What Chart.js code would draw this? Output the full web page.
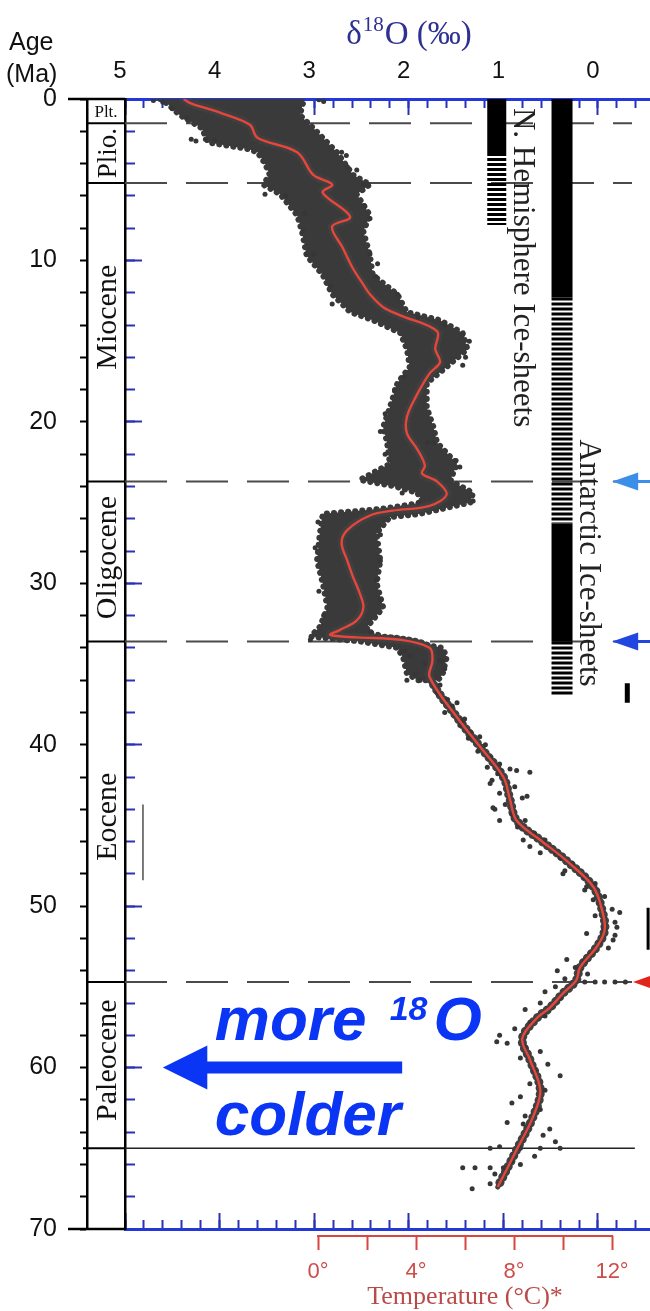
<!DOCTYPE html>
<html>
<head>
<meta charset="utf-8">
<script src="https://cdn.jsdelivr.net/npm/chart.js@4.4.1/dist/chart.umd.min.js"></script>
<style>
  html, body { margin: 0; padding: 0; background: #ffffff; }
  canvas { display: block; }
</style>
</head>
<body>
<canvas id="c" width="650" height="1311"></canvas>
<script>
// ================= DATA =================
const deltaTickLabels = [5, 4, 3, 2, 1, 0];
const ageTickLabels = [0, 10, 20, 30, 40, 50, 60, 70];
const tempTickLabels = [0, 4, 8, 12];

const epochNames = ['Plt.', 'Plio.', 'Miocene', 'Oligocene', 'Eocene', 'Paleocene', ''];
const epochStart = [0, 1.5, 5.2, 23.7, 33.6, 54.7, 65];
const epochEnd   = [1.5, 5.2, 23.7, 33.6, 54.7, 65, 70];
const dashedAges = [1.5, 5.2, 23.7, 33.6, 54.7];
const solidAges  = [65];

// smoothed (red) curve: age (Ma) and delta18O (per mil)
const smoothAge  = [0.0, 0.25, 0.9, 1.6, 2.4, 3.3, 4.7, 5.3, 5.8, 7.3, 7.9, 9.2, 10.5, 11.5, 12.1, 12.9, 13.4, 14.4, 15.5, 16.3, 17.0, 18.5, 19.7, 20.7, 21.7, 22.7, 23.2, 23.7, 24.5, 25.2, 25.5, 25.8, 26.7, 27.5, 28.6, 29.6, 30.6, 31.5, 32.3, 32.9, 33.2, 33.35, 33.5, 34.0, 34.8, 35.8, 38.3, 40.1, 42.0, 43.4, 44.7, 45.9, 47.2, 48.8, 50.4, 51.5, 52.5, 53.8, 54.6, 55.4, 56.3, 56.9, 58.2, 59.5, 61.4, 63.1, 65.1, 67.4];
const smoothD18O = [4.38, 4.31, 3.97, 3.68, 3.60, 3.18, 3.01, 2.81, 2.91, 2.62, 2.81, 2.70, 2.59, 2.48, 2.41, 2.27, 2.09, 1.70, 1.72, 1.67, 1.78, 1.93, 2.02, 2.02, 1.91, 1.83, 1.86, 1.70, 1.60, 1.78, 2.17, 2.41, 2.65, 2.71, 2.65, 2.59, 2.52, 2.48, 2.55, 2.73, 2.83, 2.55, 2.09, 1.78, 1.75, 1.78, 1.49, 1.25, 1.00, 0.93, 0.86, 0.61, 0.33, 0.05, -0.05, -0.07, 0.01, 0.19, 0.23, 0.37, 0.51, 0.64, 0.80, 0.72, 0.61, 0.69, 0.86, 1.06];

// dense data cloud (Neogene - late Eocene): left and right edges
const cloudLeftAge  = [0.0, 0.3, 1.0, 1.8, 2.7, 3.1, 3.3, 4.0, 4.7, 5.3, 5.9, 7.2, 8.2, 9.7, 10.9, 12.1, 13.2, 13.7, 14.5, 15.5, 16.6, 17.6, 19.1, 20.3, 21.3, 22.6, 23.6, 24.0, 24.4, 25.0, 25.4, 25.7, 26.9, 28.6, 30.0, 31.5, 32.7, 33.3, 33.6, 34.0, 34.6, 35.6, 36.0];
const cloudLeftD18O = [4.63, 4.55, 4.42, 4.19, 4.12, 3.70, 3.60, 3.52, 3.47, 3.54, 3.36, 3.18, 3.13, 3.08, 2.91, 2.81, 2.62, 2.38, 2.09, 2.02, 1.99, 2.12, 2.20, 2.27, 2.23, 2.20, 2.52, 2.15, 1.91, 1.85, 2.30, 2.91, 2.94, 2.97, 2.91, 2.86, 2.94, 3.04, 2.52, 2.12, 2.06, 2.02, 1.90];
const cloudRightAge  = [0.0, 0.3, 1.0, 1.8, 3.3, 4.7, 5.3, 5.9, 7.2, 8.2, 9.7, 10.9, 12.1, 13.2, 13.7, 14.5, 15.5, 16.6, 17.6, 19.1, 20.3, 21.3, 22.6, 23.6, 23.8, 24.4, 25.0, 25.7, 25.9, 26.9, 28.6, 30.0, 31.5, 32.7, 33.0, 33.4, 34.0, 34.6, 35.6, 36.0];
const cloudRightD18O = [3.10, 3.12, 3.15, 3.01, 2.76, 2.59, 2.41, 2.55, 2.41, 2.48, 2.41, 2.38, 2.12, 2.02, 1.67, 1.43, 1.38, 1.60, 1.81, 1.81, 1.74, 1.70, 1.49, 1.56, 1.51, 1.32, 1.35, 1.88, 2.20, 2.34, 2.30, 2.34, 2.27, 2.44, 2.44, 2.20, 1.64, 1.60, 1.64, 1.69];

// individual measurements visible outside / at the edge of the dense cloud
const dotAge  = [0.1, 0.2, 0.05, 0.15, 2.5, 2.6, 3.3, 3.5, 4.2, 5.3, 5.3, 5.9, 7.1, 7.4, 8.2, 9.6, 9.6, 9.6, 11.6, 12.1, 12.7, 14.6, 16.5, 20.6, 21.3, 21.3, 22.8, 24.4, 24.9, 27.8, 28.6, 29.8, 33.5, 34.3,
  2.5, 2.55, 6.0, 1.2, 0.6, 4.4, 6.6, 10.2, 11.0, 13.5, 14.0, 15.0, 16.0, 17.2, 18.0, 19.5, 22.0, 22.4, 25.0, 26.2, 27.0, 30.5, 31.0, 32.0, 33.0,
  34.2, 34.5, 34.8, 35.0, 35.3, 35.6, 36.0, 36.3, 36.8, 37.2, 37.6, 38.0, 38.4, 38.8, 39.2, 39.6, 40.0, 40.4, 40.8, 41.2, 41.5, 41.8, 42.2, 42.6, 43.0, 43.3, 43.7, 44.0, 44.3, 44.7, 45.1, 45.5, 45.9, 46.3, 46.7, 47.0, 47.4, 47.8, 48.2, 48.6, 49.0, 49.4, 49.8, 50.2, 50.6, 51.0, 51.4, 51.8, 52.2, 52.6, 53.0, 53.4, 53.8, 54.2, 54.5, 54.7, 54.7, 54.7, 54.7, 54.7, 55.0, 55.3, 55.7, 56.0, 56.4, 56.8, 57.2, 57.6, 58.0, 58.4, 58.5, 58.7, 59.0, 59.4, 59.8, 60.2, 60.5, 61.0, 61.4, 61.8, 62.2, 62.6, 63.0, 63.4, 63.5, 63.8, 64.2, 64.6, 64.9, 65.0, 65.0, 65.0, 65.0, 65.5, 65.8, 66.0, 66.2, 66.2, 66.2, 66.2, 66.6, 67.2, 67.5,
  36.0, 34.8, 37.4, 38.5, 39.5, 41.4, 42.4, 43.9, 44.7, 41.6, 41.7, 43.2, 45.9, 46.7, 48.0, 48.8, 49.6, 50.4, 51.3, 52.1, 51.7, 53.3, 54.0];
const dotD18O = [4.70, 4.60, 2.95, 2.90, 4.30, 4.25, 2.71, 2.66, 2.65, 2.48, 2.43, 3.52, 3.10, 2.41, 3.12, 3.08, 3.01, 2.41, 2.83, 2.12, 2.81, 1.43, 1.43, 2.30, 1.74, 1.80, 1.46, 2.07, 1.32, 2.99, 2.30, 2.34, 3.04, 2.09,
  4.15, 4.05, 3.30, 4.35, 4.50, 2.55, 2.47, 2.33, 2.35, 1.90, 1.62, 1.36, 1.40, 2.05, 2.15, 2.25, 2.25, 1.50, 1.90, 2.96, 2.30, 2.95, 2.30, 2.90, 2.40,
  2.04, 1.99, 1.67, 1.83, 1.62, 1.93, 1.88, 1.67, 1.70, 1.59, 1.54, 1.62, 1.41, 1.46, 1.35, 1.37, 1.19, 1.27, 1.14, 1.04, 0.93, 1.06, 1.12, 0.88, 1.04, 0.80, 0.98, 1.09, 0.91, 0.77, 0.85, 0.67, 0.56, 0.72, 0.45, 0.40, 0.27, 0.35, 0.14, 0.03, 0.14, -0.07, -0.02, -0.15, 0.03, -0.18, -0.07, -0.18, -0.02, -0.11, 0.08, 0.14, 0.24, 0.11, 0.35, 0.14, 0.03, -0.07, -0.18, -0.29, 0.45, 0.56, 0.40, 0.61, 0.77, 0.56, 0.72, 0.88, 1.04, 1.07, 0.96, 0.77, 0.61, 0.82, 0.53, 0.67, 0.40, 0.72, 0.56, 0.82, 0.91, 0.61, 0.77, 0.96, 0.79, 0.51, 0.58, 0.45, 1.04, 1.14, 0.82, 0.61, 0.40, 0.67, 0.91, 0.82, 1.43, 1.30, 1.14, 1.00, 1.09, 1.14, 1.33,
  2.02, 1.64, 1.49, 1.43, 1.25, 1.17, 1.14, 1.11, 1.04, 0.86, 0.72, 0.75, 0.79, 0.61, 0.37, 0.12, 0.05, -0.23, -0.20, -0.16, 0.12, 0.33, 0.43];

// ice-sheet bars (0 = N. Hemisphere, 1 = Antarctic); full = permanent, else partial/ephemeral
const iceSheetNames = ['N. Hemisphere Ice-sheets', 'Antarctic Ice-sheets'];
const iceSheetD18O  = [1.07, 0.38];
const iceBarSheet = [0, 0, 1, 1, 1, 1];
const iceBarFrom  = [0, 3.35, 0, 12.3, 26.3, 33.6];
const iceBarTo    = [3.35, 7.8, 12.3, 26.3, 33.6, 37.0];
const iceBarFull  = [true, false, true, false, true, false];
const iceLabelAge  = [0.55, 21.1];
const iceLabelD18O = [0.78, 0.085];

// small vertical marks
const markD18O = [-0.31, -0.53, 4.81];
const markFrom = [36.2, 50.1, 43.7];
const markTo   = [37.4, 52.7, 48.4];

// event arrows on the right edge
const eventAges = [23.7, 33.6, 54.7];

// annotation ("more 18O / colder" arrow)
const bigArrowAge = 60.0;
const bigArrowD18O = [4.60, 4.13, 2.07]; // tip, head base, tail
const moreTextAge = [58.3, 64.2];
const moreTextD18O = 4.05;

// temperature scale range shown
const tempRange = [0, 12];

// ================= STYLE / CONFIG =================
const SANS = "'Liberation Sans', Arial, Helvetica, sans-serif";
const SERIF = "'Liberation Serif', 'Times New Roman', Times, serif";
const BLUE_TICK = '#2b32b2';
const BLUE_AXIS = '#2338d8';
const RED_AXIS = '#d8463f';
const RED_TEXT = '#cc4d4a';
const CLOUD = '#3a3a3a';
const isStep = (v, s) => Math.abs(v / s - Math.round(v / s)) < 1e-6;
Chart.defaults.font.family = SANS;

const pts = (xs, ys) => ys.map((a, i) => ({ x: xs[i], y: a }));
const datasets = [];
datasets.push({ label: 'smoothed', data: pts(smoothD18O, smoothAge), showLine: true, borderColor: '#e8453b', borderWidth: 2.4, tension: 0.35, pointRadius: 0, order: 0 });
datasets.push({ label: 'measurements', data: pts(dotD18O, dotAge), pointRadius: 2.5, pointStyle: 'circle', backgroundColor: '#363636', borderWidth: 0, order: 1 });
datasets.push({ label: 'halo', data: pts(smoothD18O, smoothAge), showLine: true, borderColor: '#404040', borderWidth: 5, tension: 0.35, pointRadius: 0, borderJoinStyle: 'round', borderCapStyle: 'round', order: 2 });
datasets.push({ label: 'halo-beads', data: pts(smoothD18O, smoothAge), showLine: true, borderColor: '#404040', borderWidth: 9, borderDash: [0.1, 6], borderCapStyle: 'round', tension: 0.35, pointRadius: 0, order: 2 });
const cloudPolygon = pts(cloudLeftD18O, cloudLeftAge).concat(pts(cloudRightD18O, cloudRightAge).reverse());
datasets.push({ label: 'cloud', data: cloudPolygon, showLine: true, fill: 'shape', backgroundColor: CLOUD, borderColor: CLOUD, borderWidth: 6, borderDash: [0.1, 7], borderCapStyle: 'round', pointRadius: 0, tension: 0, order: 3 });
iceBarFrom.forEach((f, i) => {
  const d = iceSheetD18O[iceBarSheet[i]];
  datasets.push({ label: 'ice' + i, data: [{ x: d, y: f }, { x: d, y: iceBarTo[i] }], showLine: true, borderColor: '#000', borderWidth: iceBarSheet[i] === 0 ? 19 : 21, borderDash: iceBarFull[i] ? [] : [3, 2], borderCapStyle: 'butt', pointRadius: 0, order: 4 });
});
dashedAges.forEach(a => datasets.push({ label: 'b' + a, data: [{ x: 5, y: a }, { x: -0.36, y: a }], showLine: true, borderColor: '#4a4a4a', borderWidth: 2, borderDash: [42, 19], borderCapStyle: 'butt', pointRadius: 0, order: 5 }));
solidAges.forEach(a => datasets.push({ label: 's' + a, data: [{ x: 5, y: a }, { x: -0.39, y: a }], showLine: true, borderColor: '#222', borderWidth: 1.5, pointRadius: 0, order: 5 }));
const markWidths = [5, 3, 1.4];
markFrom.forEach((f, i) => datasets.push({ label: 'm' + i, data: [{ x: markD18O[i], y: f }, { x: markD18O[i], y: markTo[i] }], showLine: true, borderColor: i === 2 ? '#444' : '#000', borderWidth: markWidths[i], borderCapStyle: 'butt', pointRadius: 0, order: 5 }));

const ageScaleBase = { type: 'linear', position: 'left', min: 0, max: 70, reverse: true };
const deltaScaleBase = { type: 'linear', min: -0.55, max: 5, reverse: true };

const scales = {
  // top δ18O axis with labels
  x: Object.assign({}, deltaScaleBase, {
    position: 'top', weight: 2,
    afterFit: s => { s.height = 99; },
    border: { display: true, color: BLUE_AXIS, width: 3 },
    grid: { drawOnChartArea: false, drawTicks: true, tickLength: 13, tickColor: 'transparent' },
    ticks: { stepSize: 1, includeBounds: false, autoSkip: false, maxRotation: 0, padding: 0, labelOffset: -5, color: '#111', font: { family: SANS, size: 24 },
      callback: v => deltaTickLabels.includes(v) ? String(v) : '' }
  }),
  xTopMajor: Object.assign({}, deltaScaleBase, {
    position: 'top', weight: 1,
    afterFit: s => { s.height = 0; },
    border: { display: false },
    grid: { drawOnChartArea: false, tickLength: -16, tickWidth: 2, tickColor: c => isStep(c.tick.value, 1) ? BLUE_TICK : 'transparent' },
    ticks: { display: false, stepSize: 1, includeBounds: false, autoSkip: false }
  }),
  xTopMinor: Object.assign({}, deltaScaleBase, {
    position: 'top', weight: 0,
    afterFit: s => { s.height = 0; },
    border: { display: false },
    grid: { drawOnChartArea: false, tickLength: -9, tickWidth: 2, tickColor: c => isStep(c.tick.value, 0.2) ? BLUE_TICK : 'transparent' },
    ticks: { display: false, stepSize: 0.2, includeBounds: false, autoSkip: false }
  }),
  xBotMinor: Object.assign({}, deltaScaleBase, {
    position: 'bottom', weight: 0,
    afterFit: s => { s.height = 0; },
    border: { display: false },
    grid: { drawOnChartArea: false, tickLength: -9, tickWidth: 2, tickColor: c => isStep(c.tick.value, 0.2) ? BLUE_TICK : 'transparent' },
    ticks: { display: false, stepSize: 0.2, includeBounds: false, autoSkip: false }
  }),
  xBot: Object.assign({}, deltaScaleBase, {
    position: 'bottom', weight: 1,
    afterFit: s => { s.height = 7; },
    border: { display: true, color: BLUE_AXIS, width: 3 },
    grid: { drawOnChartArea: false, tickLength: -16, tickWidth: 2, tickColor: c => isStep(c.tick.value, 1) ? BLUE_TICK : 'transparent' },
    ticks: { display: false, stepSize: 1, includeBounds: false, autoSkip: false }
  }),
  // temperature scale (tick marks)
  xTempTicks: {
    type: 'linear', position: 'bottom', weight: 2, min: -7.88, max: 13.55,
    afterFit: s => { s.height = 0; },
    border: { display: false },
    grid: { drawOnChartArea: false, tickLength: 14, tickWidth: 2,
      tickColor: c => (c.tick.value >= tempRange[0] - 1e-6 && c.tick.value <= tempRange[1] + 1e-6 && isStep(c.tick.value, 2)) ? RED_AXIS : 'transparent' },
    ticks: { display: false, stepSize: 2, includeBounds: false, autoSkip: false }
  },
  // temperature scale (labels)
  xTemp: {
    type: 'linear', position: 'bottom', weight: 3, min: -7.88, max: 13.55,
    afterFit: s => { s.height = 75; },
    border: { display: false },
    grid: { drawOnChartArea: false, drawTicks: true, tickLength: 23, tickColor: 'transparent' },
    ticks: { stepSize: 2, includeBounds: false, autoSkip: false, maxRotation: 0, padding: 0, color: RED_TEXT, font: { family: SANS, size: 22 },
      callback: v => tempTickLabels.includes(v) ? v + '°' : '' }
  },
  y: Object.assign({}, ageScaleBase, {
    weight: 3,
    afterFit: s => { s.width = 87; },
    border: { display: true, color: '#000', width: 2.5 },
    grid: { drawOnChartArea: false, tickLength: 7, tickWidth: 2, tickColor: '#000' },
    ticks: { stepSize: 2, includeBounds: false, autoSkip: false, padding: 23, color: '#111', font: { family: SANS, size: 25 },
      callback: v => ageTickLabels.includes(v) ? String(v) : '' }
  }),
  yEpoch: Object.assign({}, ageScaleBase, {
    weight: 2,
    afterFit: s => { s.width = 38; },
    border: { display: false },
    grid: { display: false },
    ticks: { display: false }
  }),
  yMajor: Object.assign({}, ageScaleBase, {
    weight: 1,
    afterFit: s => { s.width = 0; },
    border: { display: true, color: '#000', width: 2.5 },
    grid: { drawOnChartArea: false, tickLength: -17, tickWidth: 2, tickColor: BLUE_TICK },
    ticks: { display: false, stepSize: 10, autoSkip: false }
  }),
  yMinor: Object.assign({}, ageScaleBase, {
    weight: 0,
    afterFit: s => { s.width = 0; },
    border: { display: false },
    grid: { drawOnChartArea: false, tickLength: -10, tickWidth: 2, tickColor: BLUE_TICK },
    ticks: { display: false, stepSize: 2, autoSkip: false }
  })
};

function leftArrow(ctx, tip, base, tail, y, headHalf, shaftHalf, color) {
  ctx.fillStyle = color;
  ctx.beginPath();
  ctx.moveTo(tip, y);
  ctx.lineTo(base, y - headHalf);
  ctx.lineTo(base, y - shaftHalf);
  ctx.lineTo(tail, y - shaftHalf);
  ctx.lineTo(tail, y + shaftHalf);
  ctx.lineTo(base, y + shaftHalf);
  ctx.lineTo(base, y + headHalf);
  ctx.closePath();
  ctx.fill();
}

const decor = {
  id: 'decor',
  afterDraw(chart) {
    const { ctx, chartArea: area, scales: sc } = chart;
    const ys = sc.y, xs = sc.x, ts = sc.xTemp;
    const py = a => ys.getPixelForValue(a);
    const px = d => xs.getPixelForValue(d);
    const colL = ys.right, colR = area.left, colC = (colL + colR) / 2;
    ctx.save();

    // age column frame
    ctx.strokeStyle = '#000';
    ctx.lineCap = 'butt';
    ctx.lineWidth = 2.5;
    [epochStart[0], epochEnd[epochEnd.length - 1]].forEach(a => {
      ctx.beginPath(); ctx.moveTo(colL - 19, py(a)); ctx.lineTo(colR, py(a)); ctx.stroke();
    });
    ctx.lineWidth = 2;
    epochEnd.slice(0, -1).forEach((a, i) => {
      ctx.beginPath(); ctx.moveTo(i === 5 ? colL - 4 : colL, py(a)); ctx.lineTo(colR, py(a)); ctx.stroke();
    });

    // epoch names
    ctx.fillStyle = '#111';
    const nameShift = [0, 0, -15, -4, 5, -5, 0];
    epochNames.forEach((name, i) => {
      if (!name) return;
      const cy = (py(epochStart[i]) + py(epochEnd[i])) / 2 + nameShift[i];
      ctx.save();
      ctx.translate(colC, cy);
      ctx.textAlign = 'center';
      ctx.textBaseline = 'alphabetic';
      if (i === 0) {
        ctx.font = `17px ${SERIF}`;
        ctx.fillText(name, 0, 6);
      } else {
        ctx.rotate(-Math.PI / 2);
        ctx.font = `${i === 1 ? 27 : 30}px ${SERIF}`;
        ctx.fillText(name, 0, 10);
      }
      ctx.restore();
    });

    // Age (Ma) label
    ctx.fillStyle = '#111';
    ctx.textAlign = 'left';
    ctx.textBaseline = 'alphabetic';
    ctx.font = `25px ${SANS}`;
    ctx.fillText('Age', 9, 50);
    ctx.fillText('(Ma)', 6, 82);

    // top title  δ18O (‰)
    ctx.fillStyle = '#2e3192';
    const big = `33px ${SERIF}`, sup = `21px ${SERIF}`;
    ctx.font = big; const w1 = ctx.measureText('δ').width;
    ctx.font = sup; const w2 = ctx.measureText('18').width;
    ctx.font = big; const w3 = ctx.measureText('O (‰)').width;
    let tx = 409 - (w1 + w2 + w3 + 2) / 2;
    ctx.font = big; ctx.fillText('δ', tx, 44); tx += w1 + 1;
    ctx.font = sup; ctx.fillText('18', tx, 31); tx += w2 + 1;
    ctx.font = big; ctx.fillText('O (‰)', tx, 44);

    // ice-sheet labels
    ctx.fillStyle = '#222';
    ctx.font = `31px ${SERIF}`;
    iceSheetNames.forEach((name, i) => {
      ctx.save();
      ctx.translate(px(iceLabelD18O[i]), py(iceLabelAge[i]));
      ctx.rotate(Math.PI / 2);
      ctx.textAlign = 'left';
      ctx.fillText(name, 0, 10);
      ctx.restore();
    });

    // event arrows on right edge
    const arrowColors = ['#3b8fe8', '#2247e0', '#e0261c'];
    const arrowTip = [-0.15, -0.15, -0.37];
    eventAges.forEach((a, i) => {
      const tip = px(arrowTip[i]);
      leftArrow(ctx, tip, tip + 26, chart.width + 5, py(a), 9, 1.5, arrowColors[i]);
    });

    // big arrow and text
    const blue = '#0b35f5';
    leftArrow(ctx, px(bigArrowD18O[0]), px(bigArrowD18O[1]), px(bigArrowD18O[2]), py(bigArrowAge), 22, 6, blue);
    ctx.fillStyle = blue;
    ctx.textAlign = 'left';
    const bf = `italic bold 62px ${SANS}`, sf = `italic bold 34px ${SANS}`;
    let mx = px(moreTextD18O);
    const my = py(moreTextAge[0]);
    ctx.font = bf; ctx.fillText('more ', mx, my); mx += ctx.measureText('more ').width + 6;
    ctx.font = sf; ctx.fillText('18', mx, my - 20); mx += ctx.measureText('18').width + 6;
    ctx.font = bf; ctx.fillText('O', mx, my);
    ctx.fillText('colder', px(moreTextD18O), py(moreTextAge[1]));

    // temperature axis baseline and title
    ctx.strokeStyle = RED_AXIS;
    ctx.lineWidth = 2;
    ctx.beginPath();
    ctx.moveTo(ts.getPixelForValue(tempRange[0]) - 1, ts.top);
    ctx.lineTo(ts.getPixelForValue(tempRange[1]) + 1, ts.top);
    ctx.stroke();
    ctx.fillStyle = '#b94a48';
    ctx.font = `26px ${SERIF}`;
    ctx.textAlign = 'center';
    ctx.fillText('Temperature (°C)*', ts.getPixelForValue((tempRange[0] + tempRange[1]) / 2), ts.bottom - 7);

    ctx.restore();
  }
};

new Chart(document.getElementById('c'), {
  type: 'scatter',
  data: { datasets },
  options: {
    responsive: false,
    animation: false,
    devicePixelRatio: 1,
    events: [],
    layout: { autoPadding: false, padding: 0 },
    plugins: { legend: { display: false }, tooltip: { enabled: false } },
    scales
  },
  plugins: [decor]
});
</script>
</body>
</html>
